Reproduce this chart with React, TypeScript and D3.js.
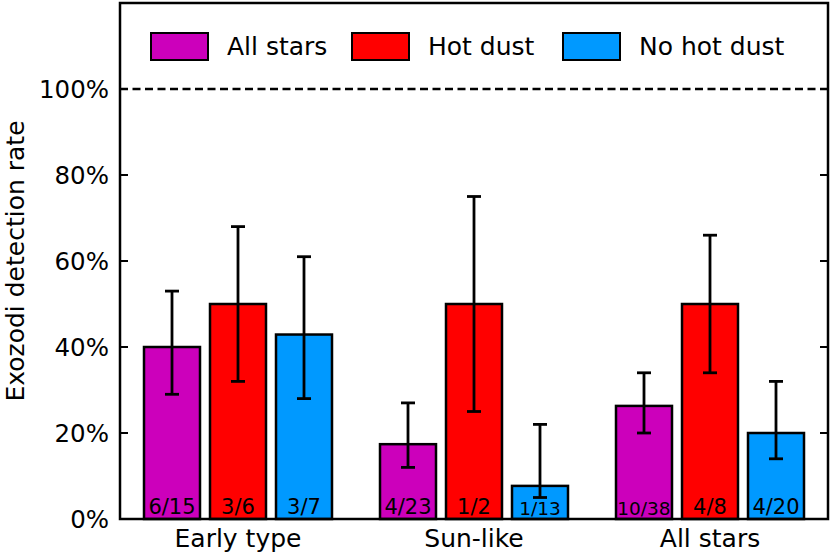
import React from 'react'
import * as d3 from 'd3'

const categories = ['Early type', 'Sun-like', 'All stars']
const seriesNames = ['All stars', 'Hot dust', 'No hot dust']
const seriesColors = ['#cc00bb', '#ff0000', '#0099ff']

// rates in %, per category, one array per series
const rates = [
  [40, 17.4, 26.3],
  [50, 50, 50],
  [42.9, 7.7, 20],
]
const errLow = [
  [29, 12, 20],
  [32, 25, 34],
  [28, 5, 14],
]
const errHigh = [
  [53, 27, 34],
  [68, 75, 66],
  [61, 22, 32],
]
const fractions = [
  ['6/15', '4/23', '10/38'],
  ['3/6', '1/2', '4/8'],
  ['3/7', '1/13', '4/20'],
]
// labels that were shrunk to fit inside their bar
const shrunkLabels = ['10/38', '1/13']
const yTicks = [0, 20, 40, 60, 80, 100]

const W = 830
const H = 554
const margin = { top: 3, right: 2, bottom: 35, left: 120 }
const font = 'DejaVu Sans, sans-serif'

export default function App() {
  const x = d3.scaleBand<string>()
    .domain(categories)
    .range([margin.left, W - margin.right])
  const y = d3.scaleLinear().domain([0, 120]).range([H - margin.bottom, margin.top])

  const barW = 56
  const step = 66
  const capHalf = 7
  const x0 = margin.left
  const x1 = W - margin.right
  const y0 = y(0)

  return (
    <div style={{ position: 'absolute', left: 0, top: 0 }}>
      <svg width={W} height={H} style={{ display: 'block', fontFamily: font }}>
        <rect x={0} y={0} width={W} height={H} fill="white" />

        {/* 100% reference */}
        <line x1={x0} x2={x1} y1={y(100)} y2={y(100)} stroke="black" strokeWidth={2.5} strokeDasharray="8,4.5" />

        {/* bars */}
        {seriesNames.map((s, si) =>
          categories.map((c, ci) => {
            const cx = x(c)! + x.bandwidth() / 2 + (si - 1) * step
            return (
              <rect key={s + c} x={cx - barW / 2} y={y(rates[si][ci])} width={barW}
                height={y0 - y(rates[si][ci])} fill={seriesColors[si]} stroke="black" strokeWidth={2.5} />
            )
          })
        )}

        {/* fraction labels */}
        {seriesNames.map((s, si) =>
          categories.map((c, ci) => {
            const cx = x(c)! + x.bandwidth() / 2 + (si - 1) * step
            const label = fractions[si][ci]
            const small = shrunkLabels.includes(label)
            return (
              <text key={'f' + s + c} x={cx} y={y0 - (small ? 4 : 5)} textAnchor="middle"
                fontSize={small ? 18.5 : 21} fill="black">{label}</text>
            )
          })
        )}

        {/* error bars */}
        {seriesNames.map((s, si) =>
          categories.map((c, ci) => {
            const cx = x(c)! + x.bandwidth() / 2 + (si - 1) * step
            const lo = y(errLow[si][ci])
            const hi = y(errHigh[si][ci])
            return (
              <g key={'e' + s + c} stroke="black" strokeWidth={2.8}>
                <line x1={cx} x2={cx} y1={lo} y2={hi} />
                <line x1={cx - capHalf} x2={cx + capHalf} y1={lo} y2={lo} />
                <line x1={cx - capHalf} x2={cx + capHalf} y1={hi} y2={hi} />
              </g>
            )
          })
        )}

        {/* frame */}
        <rect x={x0} y={margin.top} width={x1 - x0} height={y0 - margin.top} fill="none" stroke="black" strokeWidth={2.5} />

        {/* y ticks, inward on both sides */}
        {yTicks.map(t => (
          <g key={'t' + t}>
            {t > 0 && t < 100 && (
              <>
                <line x1={x0} x2={x0 + 8} y1={y(t)} y2={y(t)} stroke="black" strokeWidth={2} />
                <line x1={x1 - 8} x2={x1} y1={y(t)} y2={y(t)} stroke="black" strokeWidth={2} />
              </>
            )}
            <text x={x0 - 11} y={y(t)} dy="0.36em" textAnchor="end" fontSize={24.5} fill="black">{t}%</text>
          </g>
        ))}

        {/* category labels */}
        {categories.map(c => (
          <text key={'c' + c} x={x(c)! + x.bandwidth() / 2} y={H - 7} textAnchor="middle" fontSize={25} fill="black">{c}</text>
        ))}

        {/* y axis title */}
        <text transform={`translate(24, ${(y0 + margin.top) / 2}) rotate(-90)`} textAnchor="middle"
          fontSize={25} fill="black">Exozodi detection rate</text>

        {/* legend */}
        {seriesNames.map((s, si) => {
          const lx = [151, 352, 563][si]
          return (
            <g key={'l' + s}>
              <rect x={lx} y={33} width={57} height={27} fill={seriesColors[si]} stroke="black" strokeWidth={2} />
              <text x={lx + 76} y={55} fontSize={25} fill="black">{s}</text>
            </g>
          )
        })}
      </svg>
    </div>
  )
}
